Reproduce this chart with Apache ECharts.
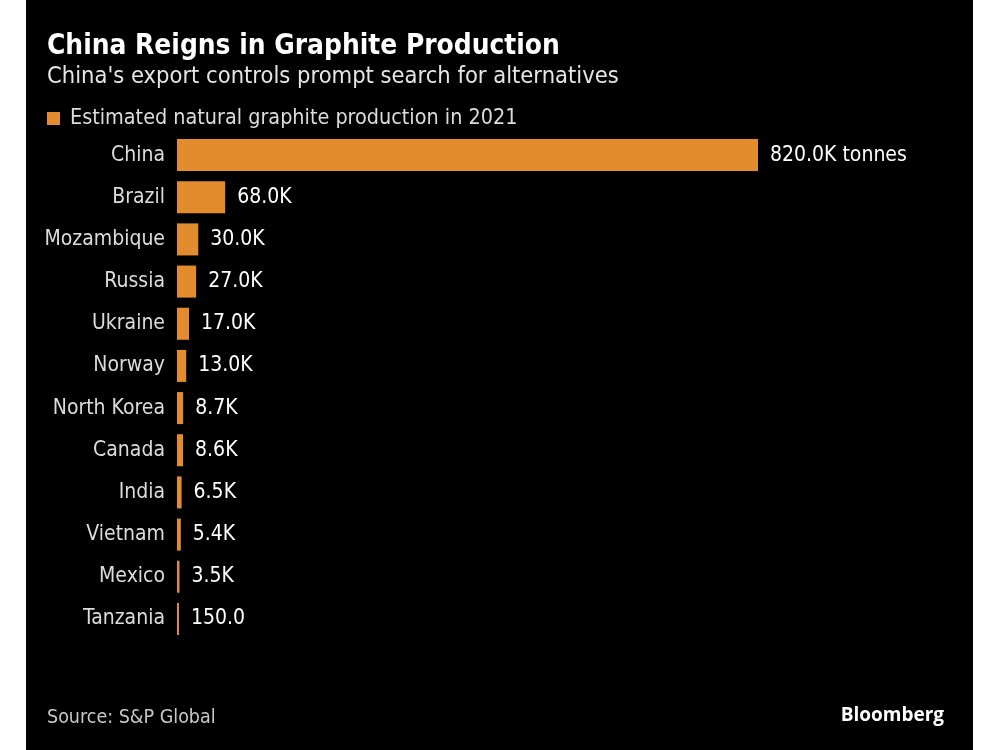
<!DOCTYPE html>
<html>
<head>
<meta charset="utf-8">
<script src="https://cdn.jsdelivr.net/npm/echarts@6/dist/echarts.min.js"></script>
<style>
html,body{margin:0;padding:0;background:#fff;}
#chart{width:1000px;height:750px;}
</style>
</head>
<body>
<div id="chart"></div>
<script>
const countries = ["China","Brazil","Mozambique","Russia","Ukraine","Norway","North Korea","Canada","India","Vietnam","Mexico","Tanzania"];
const production = [820000,68000,30000,27000,17000,13000,8700,8600,6500,5400,3500,150];
const seriesName = "Estimated natural graphite production in 2021";

const FONT = "'DejaVu Sans Condensed', 'DejaVu Sans', sans-serif";
const chart = echarts.init(document.getElementById('chart'));

function fmt(v, i){
  let s = v >= 1000 ? (v/1000).toFixed(1) + 'K' : v.toFixed(1);
  if (i === 0) s += ' tonnes';
  return s;
}

chart.setOption({
  backgroundColor: '#ffffff',
  animation: false,
  graphic: [{
    type: 'rect', z: -10, silent: true,
    shape: {x: 26, y: 0, width: 947, height: 750},
    style: {fill: '#000000'}
  },{
    type: 'text', left: 47, top: 708,
    style: {text: 'Source: S&P Global', fill: '#c8c8c8', font: "19.5px " + FONT}
  },{
    type: 'text', right: 1000-944, top: 706,
    style: {text: 'Bloomberg', fill: '#ffffff', font: "bold 19px 'Open Sans', 'DejaVu Sans', sans-serif"}
  }],
  title: {
    text: 'China Reigns in Graphite Production',
    subtext: "China's export controls prompt search for alternatives",
    left: 42, top: 28,
    itemGap: 4,
    textStyle: {color: '#ffffff', fontFamily: FONT, fontWeight: 'bold', fontSize: 27.8},
    subtextStyle: {color: '#e6e6e6', fontFamily: FONT, fontSize: 23.5}
  },
  legend: {
    left: 42, top: 103,
    icon: 'rect', itemWidth: 13, itemHeight: 13, itemGap: 10,
    textStyle: {color: '#dcdcdc', fontFamily: FONT, fontSize: 21.4, padding: [0,0,0,5]},
    data: [seriesName]
  },
  grid: {left: 177, right: 242, top: 134, bottom: 110},
  xAxis: {type: 'value', min: 0, max: 820000, show: false},
  yAxis: {
    type: 'category', data: countries, inverse: true,
    axisLine: {show: false}, axisTick: {show: false},
    axisLabel: {color: '#dcdcdc', fontFamily: FONT, fontSize: 21, margin: 12}
  },
  series: [{
    name: seriesName,
    type: 'bar',
    data: production,
    barCategoryGap: '24%',
    barMinHeight: 2,
    itemStyle: {color: '#E38C2D'},
    label: {
      show: true, position: 'right', distance: 12,
      color: '#ffffff', fontFamily: FONT, fontSize: 21,
      formatter: p => fmt(p.value, p.dataIndex)
    }
  }]
});
</script>
</body>
</html>
